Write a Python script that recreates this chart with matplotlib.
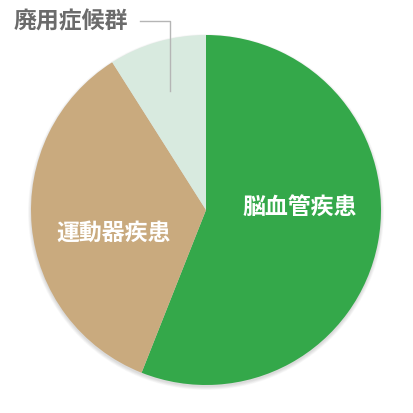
import matplotlib.pyplot as plt
from matplotlib.patches import Circle

plt.rcParams['font.family'] = ['Noto Sans CJK JP', 'DejaVu Sans']

labels = ['脳血管疾患', '運動器疾患', '廃用症候群']
values = [56, 35, 9]
colors = ['#34a84a', '#c9aa7e', '#d8eadf']

H = 413
cx, cy, r = 206, H - 210, 175

fig = plt.figure(figsize=(4.13, 4.13), dpi=100)
ax = fig.add_axes([0, 0, 1, 1])

# soft shadow under the pie
for i in range(6):
    ax.add_patch(Circle((cx, cy - 2), r + 0.6 * i, color='black',
                        alpha=0.025, lw=0, zorder=0))

ax.pie(values, colors=colors, startangle=90, counterclock=False,
       center=(cx, cy), radius=r, frame=True,
       wedgeprops=dict(linewidth=0, zorder=1))
ax.set_xlim(0, H)
ax.set_ylim(0, H)
ax.set_aspect('equal')
ax.axis('off')

ax.text(300, H - 207, labels[0], color='white', fontsize=16.5,
        fontweight='bold', ha='center', va='center')
ax.text(113.5, H - 233, labels[1], color='white', fontsize=16.5,
        fontweight='bold', ha='center', va='center')
ax.text(71, H - 22, labels[2], color='#6b6b6b', fontsize=16.5,
        fontweight='bold', ha='center', va='center')

ax.plot([140, 170, 170], [H - 21, H - 21, H - 91], color='#b5b5b5',
        lw=1, zorder=3)

fig.savefig('out.png', dpi=100)
